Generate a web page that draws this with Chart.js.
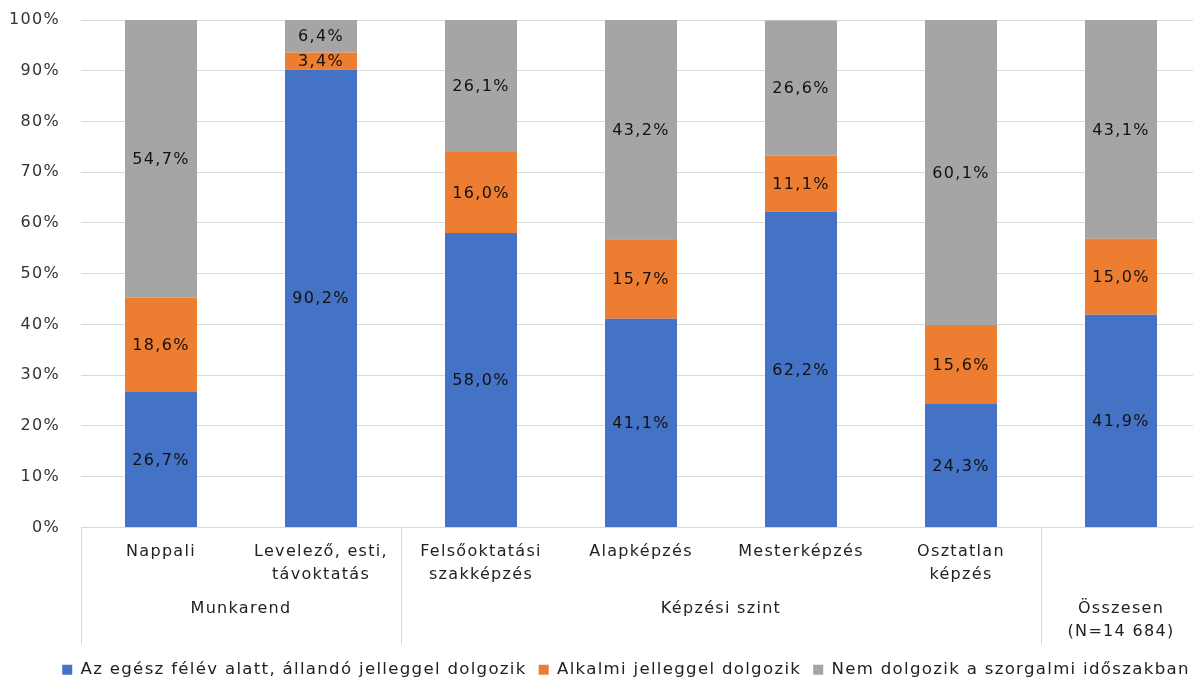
<!DOCTYPE html>
<html lang="hu">
<head>
<meta charset="utf-8">
<title>Munkavállalás a szorgalmi időszakban</title>
<script src="https://cdn.jsdelivr.net/npm/chart.js@4.4.1/dist/chart.umd.min.js"></script>
<style>
  html, body { margin: 0; padding: 0; background: #fff; overflow: hidden; }
  #wrap { width: 1252px; height: 679px; }
</style>
</head>
<body>
<div id="wrap"><canvas id="c" width="1252" height="679"></canvas></div>
<script>
// Category labels (multi-line) and their grouping
const categories = [
  ['Nappali'],
  ['Levelező, esti,', 'távoktatás'],
  ['Felsőoktatási', 'szakképzés'],
  ['Alapképzés'],
  ['Mesterképzés'],
  ['Osztatlan', 'képzés'],
  ['']
];
const groupLabels = [['Munkarend'], ['Képzési szint'], ['Összesen', '(N=14 684)']];
const groupFirst = [0, 2, 6];
const groupLast = [1, 5, 6];

// Series (percent)
const seriesNames = [
  'Az egész félév alatt, állandó jelleggel dolgozik',
  'Alkalmi jelleggel dolgozik',
  'Nem dolgozik a szorgalmi időszakban'
];
const allando = [26.7, 90.2, 58.0, 41.1, 62.2, 24.3, 41.9];
const alkalmi = [18.6, 3.4, 16.0, 15.7, 11.1, 15.6, 15.0];
const nemDolgozik = [54.7, 6.4, 26.1, 43.2, 26.6, 60.1, 43.1];
const seriesColors = ['#4472C4', '#ED7D31', '#A5A5A5'];

const FONT = '"DejaVu Sans", Verdana, sans-serif';
const TEXT = '#222222';
const GRID = '#d9d9d9';
const LINE_H = 23;

const fmt = v => v.toFixed(1).replace('.', ',') + '%';

// Slightly tracked-out text everywhere on the canvas
const spacing = {
  id: 'spacing',
  beforeUpdate(chart) { chart.ctx.letterSpacing = '1.3px'; },
  beforeLayout(chart) { chart.ctx.letterSpacing = '1.3px'; },
  beforeDraw(chart) { chart.ctx.letterSpacing = '1.3px'; }
};

// Value labels centred in each stacked segment
const segmentLabels = {
  id: 'segmentLabels',
  afterDatasetsDraw(chart) {
    const ctx = chart.ctx;
    ctx.save();
    ctx.font = '16px ' + FONT;
    ctx.fillStyle = '#111111';
    ctx.textAlign = 'center';
    ctx.textBaseline = 'middle';
    chart.data.datasets.forEach((ds, di) => {
      const meta = chart.getDatasetMeta(di);
      meta.data.forEach((bar, i) => {
        const p = bar.getProps(['x', 'y', 'base'], true);
        ctx.fillText(fmt(ds.data[i]), p.x, (p.y + p.base) / 2 + 1);
      });
    });
    ctx.restore();
  }
};

// Second level of the category axis: group names and separators
const groupAxis = {
  id: 'groupAxis',
  afterDraw(chart) {
    const ctx = chart.ctx;
    const xs = chart.scales.x;
    const step = xs.width / categories.length;
    const px = i => xs.getPixelForValue(i);
    ctx.save();
    ctx.strokeStyle = GRID;
    ctx.lineWidth = 1;
    groupFirst.forEach(first => {
      const x = Math.round(px(first) - step / 2) + 0.5;
      ctx.beginPath();
      ctx.moveTo(x, xs.top);
      ctx.lineTo(x, xs.bottom - 5);
      ctx.stroke();
    });
    ctx.font = '16px ' + FONT;
    ctx.fillStyle = TEXT;
    ctx.textAlign = 'center';
    ctx.textBaseline = 'middle';
    const y0 = xs.top + 13 + 2 * LINE_H + 11 + LINE_H / 2;
    groupLabels.forEach((lines, g) => {
      const cx = (px(groupFirst[g]) + px(groupLast[g])) / 2;
      lines.forEach((t, k) => ctx.fillText(t, cx, y0 + k * LINE_H));
    });
    ctx.restore();
  }
};

new Chart(document.getElementById('c'), {
  type: 'bar',
  data: {
    labels: categories,
    datasets: [
      { label: seriesNames[0], data: allando, backgroundColor: seriesColors[0] },
      { label: seriesNames[1], data: alkalmi, backgroundColor: seriesColors[1] },
      { label: seriesNames[2], data: nemDolgozik, backgroundColor: seriesColors[2] }
    ]
  },
  options: {
    responsive: false,
    animation: false,
    devicePixelRatio: 1,
    datasets: { bar: { categoryPercentage: 1, barPercentage: 0.45, borderWidth: 0 } },
    layout: { padding: { top: 20, bottom: -9, left: 0, right: 0 } },
    plugins: {
      tooltip: { enabled: false },
      legend: {
        position: 'bottom',
        labels: {
          boxWidth: 10,
          boxHeight: 10,
          padding: 12,
          color: TEXT,
          font: { family: FONT, size: 16.6 }
        }
      }
    },
    scales: {
      x: {
        stacked: true,
        grid: { display: false, drawTicks: false },
        border: { display: true, color: GRID, width: 1 },
        ticks: {
          color: TEXT,
          padding: 13,
          maxRotation: 0,
          autoSkip: false,
          font: { family: FONT, size: 16, lineHeight: LINE_H / 16 }
        },
        afterFit(s) { s.height = 122; }
      },
      y: {
        stacked: true,
        min: 0,
        max: 100,
        grid: { color: GRID, lineWidth: 1, drawTicks: false },
        border: { display: false },
        ticks: {
          stepSize: 10,
          padding: 21,
          color: '#333333',
          font: { family: FONT, size: 16 },
          callback: v => v + '%'
        },
        afterFit(s) {
          s.width = 81;
          s.paddingTop = 10;
          s.paddingBottom = 10;
        }
      },
      yRight: {
        type: 'linear',
        position: 'right',
        display: true,
        grid: { display: false, drawTicks: false },
        border: { display: false },
        ticks: { display: false },
        afterFit(s) {
          s.width = 51;
          s.paddingTop = 0;
          s.paddingBottom = 0;
        }
      }
    }
  },
  plugins: [spacing, segmentLabels, groupAxis]
});
</script>
</body>
</html>
